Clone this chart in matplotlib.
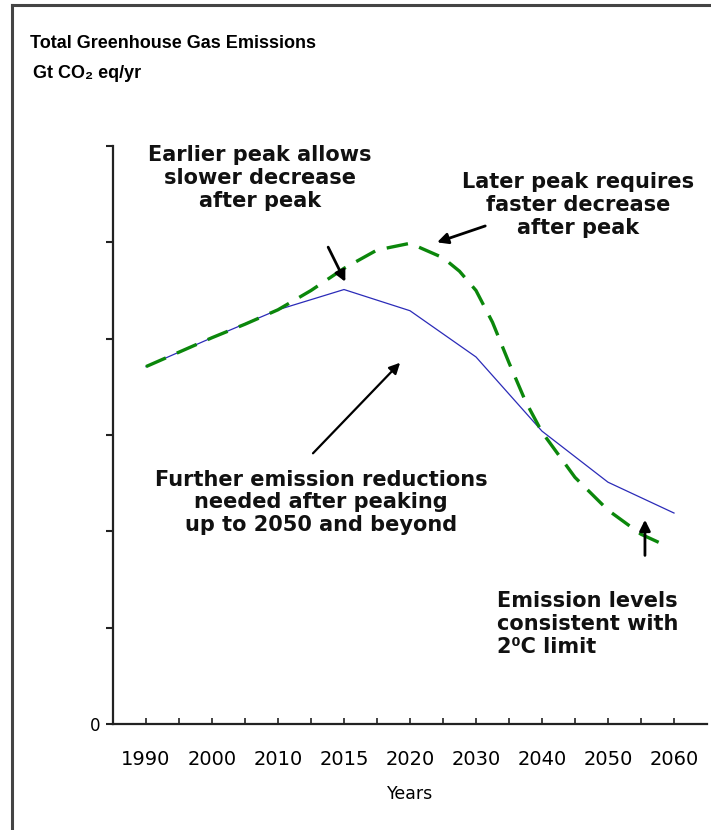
import matplotlib.pyplot as plt
from matplotlib.lines import Line2D

# x axis categories (equally spaced on the chart)
years = ['1990', '2000', '2010', '2015', '2020', '2030', '2040', '2050', '2060']

# blue line: emissions with earlier peak (one value per category)
early_peak = [3.71, 4.01, 4.30, 4.51, 4.29, 3.81, 3.04, 2.51, 2.19]

# green dashed line: later peak at finer steps
late_pos = [0, 0.5, 1, 1.5, 2, 2.5, 3, 3.5, 4, 4.5, 4.75, 5, 5.25, 5.5,
             5.75, 6, 6.5, 7, 7.5, 7.85]
late_peak = [3.71, 3.86, 4.01, 4.15, 4.30, 4.50, 4.73, 4.92, 4.99, 4.84, 4.70,
             4.50, 4.17, 3.75, 3.35, 3.03, 2.56, 2.22, 1.97, 1.86]

fig = plt.figure(figsize=(7.11, 8.30), dpi=100)
ax = fig.add_axes([113 / 711, 106 / 830, 594 / 711, 578 / 830])

x = list(range(len(years)))
ax.plot(x, early_peak, color='#2b2bb8', lw=0.9)
ax.plot(late_pos, late_peak, color='#0b870b', lw=2.4, dashes=(6.5, 3.6))

ax.set_xlim(-0.5, 8.5)
ax.set_ylim(0, 6)

# axes look
for s in ['top', 'right']:
    ax.spines[s].set_visible(False)
for s in ['left', 'bottom']:
    ax.spines[s].set_linewidth(1.6)
    ax.spines[s].set_color('#222222')

ax.set_xticks([i * 0.5 for i in range(17)])
ax.set_xticklabels([years[i // 2] if i % 2 == 0 else '' for i in range(17)],
                   fontsize=14, family='DejaVu Sans')
ax.tick_params(axis='x', direction='in', length=4, width=1.2, pad=19, color='#222222')
ax.set_yticks(range(7))
ax.set_yticklabels(['0', '', '', '', '', '', ''], fontsize=12)
ax.tick_params(axis='y', direction='out', length=5, width=1.5, pad=4, color='#222222')
ax.set_xlabel('Years', fontsize=12.5, labelpad=11)

# annotations
txt = dict(fontsize=15, fontweight='bold', family='DejaVu Sans', color='#111111',
           linespacing=1.18)
arr = dict(arrowstyle='-|>', lw=2, color='black', mutation_scale=16,
           shrinkA=0, shrinkB=0)

ax.text(1.73, 5.67, 'Earlier peak allows\nslower decrease\nafter peak',
        ha='center', va='center', **txt)
ax.annotate('', xy=(3.02, 4.59), xytext=(2.76, 4.95), arrowprops=arr)

ax.text(6.55, 5.39, 'Later peak requires\nfaster decrease\nafter peak',
        ha='center', va='center', **txt)
ax.annotate('', xy=(4.41, 5.0), xytext=(5.14, 5.17), arrowprops=arr)

ax.text(2.65, 2.30, 'Further emission reductions\nneeded after peaking\nup to 2050 and beyond',
        ha='center', va='center', **txt)
ax.annotate('', xy=(3.85, 3.75), xytext=(2.53, 2.81),
            arrowprops=dict(arr, lw=1.6))

ax.text(5.32, 1.04, 'Emission levels\nconsistent with\n2\u2070C limit',
        ha='left', va='center', **txt)
ax.annotate('', xy=(7.56, 2.12), xytext=(7.56, 1.75), arrowprops=arr)

# title block
head = dict(fontsize=13, fontweight='bold', family=['Liberation Sans', 'DejaVu Sans'])
fig.text(30 / 711, 1 - 43 / 830, 'Total Greenhouse Gas Emissions', ha='left', va='center', **head)
fig.text(33 / 711, 1 - 73 / 830, 'Gt CO\u2082 eq/yr', ha='left', va='center', **head)

# frame at left and top of the picture
fig.add_artist(Line2D([12 / 711, 12 / 711], [0, 1 - 5 / 830], color='#444444', lw=2.2))
fig.add_artist(Line2D([12 / 711, 1], [1 - 5 / 830, 1 - 5 / 830], color='#444444', lw=2.2))

plt.savefig('out.png', dpi=100)
